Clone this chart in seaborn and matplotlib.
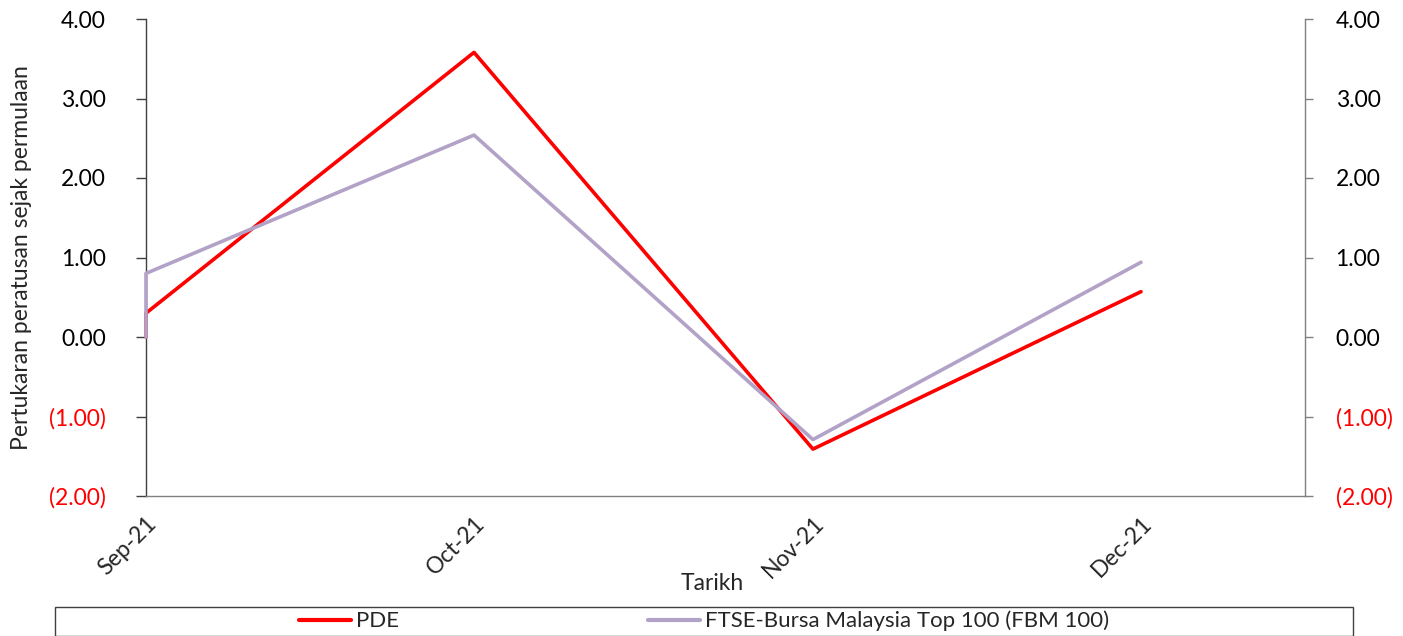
import matplotlib
matplotlib.use("Agg")
import matplotlib.pyplot as plt
import matplotlib.dates as mdates
from matplotlib.ticker import FuncFormatter, FixedLocator
from matplotlib.patches import Rectangle
from matplotlib.lines import Line2D
import seaborn as sns
import pandas as pd
import numpy as np

dates = ["2021-09-01", "2021-09-01", "2021-10-01", "2021-11-01", "2021-12-01"]
pde = [0.0, 0.30, 3.58, -1.41, 0.57]
fbm = [0.0, 0.80, 2.54, -1.29, 0.94]
series_names = ["PDE", "FTSE-Bursa Malaysia Top 100 (FBM 100)"]
colors = ["#FF0000", "#B3A2C7"]
yticks = [-2, -1, 0, 1, 2, 3, 4]

sns.set_theme(style="white")
plt.rcParams['font.family'] = ['Lato', 'DejaVu Sans']

df = pd.DataFrame({
    "Tarikh": pd.to_datetime(dates * 2),
    "value": pde + fbm,
    "series": [series_names[0]] * len(pde) + [series_names[1]] * len(fbm),
})

FS = 16.5
W, H = 1403, 636
fig = plt.figure(figsize=(W / 100, H / 100), dpi=100)
ax = fig.add_axes([146 / W, 1 - 496 / H, (1305 - 146) / W, (496 - 19) / H])

sns.lineplot(data=df, x="Tarikh", y="value", hue="series", palette=colors,
             estimator=None, sort=False, units="series", linewidth=2.6, ax=ax,
             legend=False)
for ln in ax.get_lines():
    ln.set_clip_on(False)
    ln.set_zorder(5)

ax.set_ylim(-2, 4)
ax.set_xlim(pd.Timestamp("2021-09-01"), pd.Timestamp("2021-12-16"))
ax.xaxis.set_major_locator(mdates.MonthLocator())
ax.xaxis.set_major_formatter(mdates.DateFormatter("%b-%y"))

def fmt(v, pos):
    if v < 0:
        return "({:.2f})".format(-v)
    return "{:.2f}".format(v)

ax.yaxis.set_major_locator(FixedLocator(yticks))
ax.yaxis.set_major_formatter(FuncFormatter(fmt))

ax2 = ax.twinx()
ax2.set_ylim(-2, 4)
ax2.yaxis.set_major_locator(FixedLocator(yticks))
ax2.yaxis.set_major_formatter(FuncFormatter(fmt))
ax.set_zorder(ax2.get_zorder() + 1)
ax.patch.set_visible(False)

for a in (ax, ax2):
    for s in a.spines.values():
        s.set_visible(False)
ax.spines['left'].set_visible(True)
ax.spines['left'].set_color('#404040')
ax.spines['bottom'].set_visible(True)
ax.spines['bottom'].set_color('#808080')
ax2.spines['right'].set_visible(True)
ax2.spines['right'].set_color('#808080')
for s in ('left', 'bottom'):
    ax.spines[s].set_linewidth(1.0)
ax2.spines['right'].set_linewidth(1.0)

ax.tick_params(axis='y', left=True, length=7, width=1, color='#404040',
               labelsize=FS, pad=22, labelcolor='black')
ax2.tick_params(axis='y', right=True, length=6, width=1, color='#808080',
                labelsize=FS, pad=16, labelcolor='black')
ax.tick_params(axis='x', bottom=False, labelsize=FS, pad=6)

for a in (ax, ax2):
    for t, v in zip(a.get_yticklabels(), yticks):
        t.set_color('#FF0000' if v < 0 else 'black')

for t in ax.get_xticklabels():
    t.set_rotation(45)
    t.set_ha('right')
    t.set_rotation_mode('anchor')

ax.set_xlabel("")
ax.set_ylabel("Pertukaran peratusan sejak permulaan", fontsize=FS, labelpad=12)
fig.text(712 / W, 1 - 583 / H, "Tarikh", fontsize=FS, ha='center', va='center')

# legend frame
fig.patches.append(Rectangle((55 / W, 0.0), (1353 - 55) / W, (636 - 607) / H,
                             transform=fig.transFigure, fill=False,
                             edgecolor='#404040', linewidth=1.0))
handles = [Line2D([], [], color=c, linewidth=3) for c in colors]
fig.legend(handles, series_names, loc='center', ncol=2, frameon=False,
           bbox_to_anchor=(704 / W, 1 - 621 / H), fontsize=16,
           handlelength=2.35, handletextpad=0.22, columnspacing=11.2)

fig.savefig("out.png", dpi=100)
